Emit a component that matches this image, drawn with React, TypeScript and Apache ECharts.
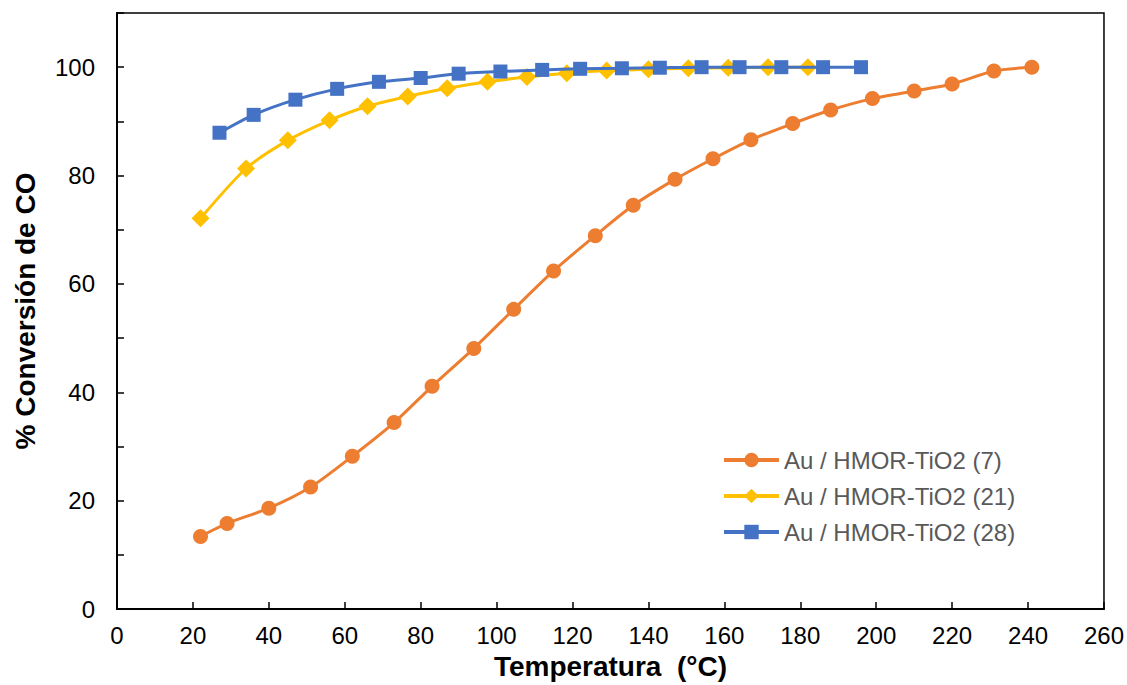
import React, { useEffect, useRef } from "react";
import * as echarts from "echarts";

const seriesNames = ["Au / HMOR-TiO2 (7)", "Au / HMOR-TiO2 (21)", "Au / HMOR-TiO2 (28)"];
const colors = ["#ED7D31", "#FFC000", "#4472C4"];

const tempA = [22, 29, 40, 51, 62, 73, 83, 94, 104.5, 115, 126, 136, 147, 157, 167, 178, 188, 199, 210, 220, 231, 241];
const convA = [13.4, 15.8, 18.6, 22.5, 28.2, 34.4, 41.1, 48.1, 55.3, 62.4, 68.9, 74.5, 79.3, 83.1, 86.6, 89.6, 92.1, 94.2, 95.6, 96.9, 99.3, 100];

const tempB = [22, 34, 45, 56, 66, 76.6, 87, 97.6, 108, 118.5, 129, 140, 150.5, 161, 171.5, 182];
const convB = [72.1, 81.3, 86.5, 90.2, 92.8, 94.6, 96.1, 97.3, 98.2, 98.9, 99.4, 99.6, 99.8, 99.9, 100, 100];

const tempC = [27, 36, 47, 58, 69, 80, 90, 101, 112, 122, 133, 143, 154, 164, 175, 186, 196];
const convC = [87.9, 91.2, 94.0, 96.0, 97.3, 98.0, 98.8, 99.2, 99.5, 99.7, 99.8, 99.9, 100, 100, 100, 100, 100];

const xTicks = { min: 0, max: 260, interval: 20 };
const yTicks = { min: 0, max: 110, interval: 10, labelStep: 20 };

const zip = (xs: number[], ys: number[]) => xs.map((x, i) => [x, ys[i]]);

export default function App() {
  const ref = useRef<HTMLDivElement>(null);
  useEffect(() => {
    if (!ref.current) return;
    const chart = echarts.init(ref.current, null, { renderer: "svg" });
    const font = "'Liberation Sans', Arial, sans-serif";
    chart.setOption({
      animation: false,
      textStyle: { fontFamily: font },
      grid: {
        left: 117,
        right: 22,
        top: 13,
        bottom: 75,
        show: true,
        borderColor: "#000",
        borderWidth: 1.5,
      },
      legend: {
        orient: "vertical",
        left: 717,
        top: 443,
        itemWidth: 55,
        itemHeight: 18,
        itemGap: 12,
        lineStyle: { width: 4 },
        textStyle: { fontSize: 24, color: "#595959", fontFamily: font },
        data: seriesNames,
      },
      xAxis: {
        type: "value",
        min: xTicks.min,
        max: xTicks.max,
        interval: xTicks.interval,
        name: "Temperatura  (°C)",
        nameLocation: "middle",
        nameGap: 43,
        nameTextStyle: { fontSize: 28, fontWeight: "bold", color: "#000", fontFamily: font },
        axisLine: { show: true, lineStyle: { color: "#000", width: 2 } },
        axisTick: { show: true, inside: true, length: 7, lineStyle: { color: "#000", width: 1.5 } },
        axisLabel: { fontSize: 24, color: "#000", margin: 14, fontFamily: font },
        splitLine: { show: false },
      },
      yAxis: {
        type: "value",
        min: yTicks.min,
        max: yTicks.max,
        interval: yTicks.interval,
        name: "% Conversión de CO",
        nameLocation: "middle",
        nameGap: 78,
        nameTextStyle: { fontSize: 28, fontWeight: "bold", color: "#000", fontFamily: font },
        axisLine: { show: true, lineStyle: { color: "#000", width: 2 } },
        axisTick: { show: true, inside: true, length: 7, lineStyle: { color: "#000", width: 1.5 } },
        axisLabel: {
          fontSize: 24,
          color: "#000",
          margin: 22,
          fontFamily: font,
          formatter: (v: number) => (v % yTicks.labelStep === 0 ? String(v) : ""),
        },
        splitLine: { show: false },
      },
      series: [
        {
          name: seriesNames[0],
          type: "line",
          data: zip(tempA, convA),
          smooth: 0.25,
          symbol: "circle",
          symbolSize: 15,
          color: colors[0],
          lineStyle: { width: 3, color: colors[0] },
          itemStyle: { color: colors[0] },
          z: 3,
        },
        {
          name: seriesNames[1],
          type: "line",
          data: zip(tempB, convB),
          smooth: 0.25,
          symbol: "diamond",
          symbolSize: 18,
          color: colors[1],
          lineStyle: { width: 3, color: colors[1] },
          itemStyle: { color: colors[1] },
          z: 4,
        },
        {
          name: seriesNames[2],
          type: "line",
          data: zip(tempC, convC),
          smooth: 0.25,
          symbol: "rect",
          symbolSize: 14,
          color: colors[2],
          lineStyle: { width: 3, color: colors[2] },
          itemStyle: { color: colors[2] },
          z: 5,
        },
      ],
    });
    return () => chart.dispose();
  }, []);
  return <div ref={ref} style={{ width: 1127, height: 685, position: "absolute", left: 0, top: 0 }} />;
}
